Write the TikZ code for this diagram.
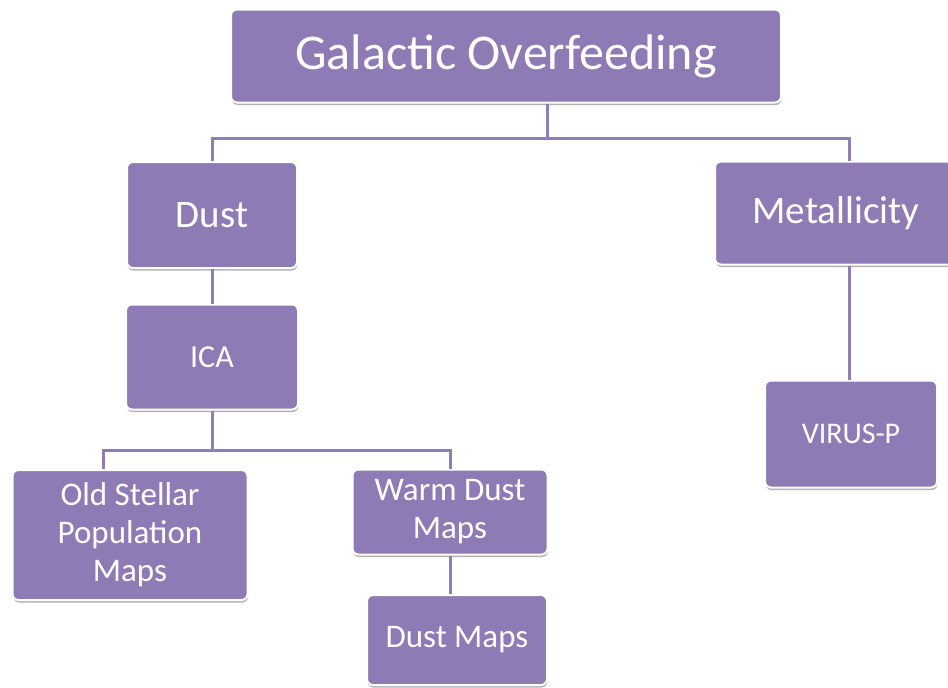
\documentclass[tikz,border=0pt]{standalone}
\usepackage{fontspec}
\setmainfont{Carlito}
\usetikzlibrary{shadows}
\definecolor{boxpurple}{HTML}{8E7AB4}
\definecolor{linkpurple}{HTML}{8F7DB7}
\tikzset{
  box/.style={rectangle, rounded corners=6pt, fill=boxpurple, draw=white, line width=2pt,
    text=white, align=center, inner sep=2pt,
    drop shadow={shadow xshift=0.5pt, shadow yshift=-2.5pt, opacity=0.3, fill=black}},
  link/.style={draw=linkpurple, line width=3pt}
}
\begin{document}
\begin{tikzpicture}[x=1pt, y=-1pt]
\useasboundingbox (0,0) rectangle (948,688);
% boxes
\node[box, minimum width=550pt, minimum height=93pt, font=\fontsize{50}{54}\selectfont] (top) at (506,56) {Galactic Overfeeding};
\node[box, minimum width=170pt, minimum height=106pt, font=\fontsize{39}{42}\selectfont] (dust) at (212,215) {Dust};
\node[box, minimum width=242pt, minimum height=103pt, font=\fontsize{39}{42}\selectfont] (metal) at (836,213) {Metallicity};
\node[box, minimum width=172pt, minimum height=105pt, font=\fontsize{32}{38}\selectfont] (ica) at (212,357) {ICA};
\node[box, minimum width=235pt, minimum height=130pt, font=\fontsize{33}{38}\selectfont] (old) at (130,535) {Old Stellar\\Population\\Maps};
\node[box, minimum width=195pt, minimum height=85pt, font=\fontsize{33}{38}\selectfont] (warm) at (450,512) {Warm Dust\\Maps};
\node[box, minimum width=180pt, minimum height=90pt, font=\fontsize{33}{38}\selectfont] (dmaps) at (457,640) {Dust Maps};
\node[box, minimum width=172pt, minimum height=107pt, font=\fontsize{30}{36}\selectfont] (virus) at (851,434) {VIRUS-P};
% connectors
\coordinate (b1) at (547,138);
\coordinate (b2) at (212,450);
\draw[link] (top.south -| b1) -- (b1);
\draw[link] (dust.north) |- (b1) -| ([xshift=13pt]metal.north);
\draw[link] (dust.south) -- (ica.north);
\draw[link] (ica.south) -- (b2);
\draw[link] ([xshift=-27pt]old.north) |- (b2) -| (warm.north);
\draw[link] (warm.south) -- (warm.south |- dmaps.north);
\draw[link] ([xshift=13pt]metal.south) -- ([xshift=13pt]metal.south |- virus.north);
\end{tikzpicture}
\end{document}
